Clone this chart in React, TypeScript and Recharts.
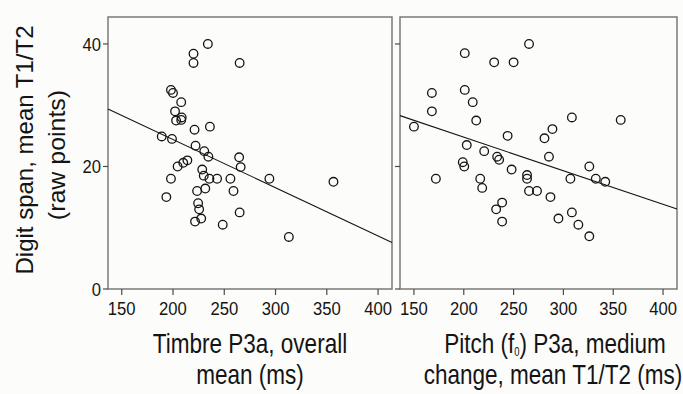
import React from 'react';
import { ScatterChart, Scatter, XAxis, YAxis, ReferenceLine, ReferenceArea, Label } from 'recharts';

// Left panel: Timbre P3a, overall mean (ms) vs digit span
const timbreP3a = [234, 220, 220, 265, 198, 200, 208, 202, 208.5, 203, 208, 221, 236, 189, 199, 222, 230.5, 214, 234.5, 264.5, 210, 204.5, 266, 228.5, 198, 230, 235.5, 243, 256, 294, 356.5, 193.5, 223.5, 231.5, 259, 224.5, 225.5, 221.5, 227.5, 248.5, 265, 313];
const digitSpanTimbre = [40, 38.4, 36.9, 36.9, 32.5, 32, 30.5, 29, 28, 27.5, 27.6, 26, 26.5, 24.9, 24.5, 23.4, 22.5, 21, 21.6, 21.5, 20.6, 20, 19.9, 19.5, 18, 18.5, 18, 18, 18, 18, 17.5, 15, 16, 16.4, 16, 14, 13, 11, 11.5, 10.5, 12.5, 8.5];

// Right panel: Pitch (f0) P3a, medium change, mean T1/T2 (ms) vs digit span
const pitchP3a = [265.5, 201, 230.5, 250, 168, 201, 209, 168, 212.5, 308.5, 357.5, 150, 289, 281, 244, 203, 220.5, 233.5, 235.5, 285.5, 199, 200.5, 326, 172, 216.5, 218.5, 248, 263.5, 263.5, 265.5, 273.5, 287, 307, 332.5, 342, 238.5, 232.5, 238.5, 295, 308.5, 315, 326];
const digitSpanPitch = [40, 38.5, 37, 37, 32, 32.5, 30.5, 29, 27.5, 28, 27.6, 26.5, 26.1, 24.6, 25, 23.5, 22.5, 21.6, 21.1, 21.6, 20.7, 20, 20, 18, 18, 16.5, 19.5, 18.6, 18, 16, 16, 15, 18, 18, 17.5, 14.1, 13, 11, 11.5, 12.5, 10.5, 8.6];

// Fit lines (endpoints read at the frame edges)
const timbreFitX = [136.6, 413.6];
const timbreFitY = [29.4, 7.6];
const pitchFitX = [136, 414];
const pitchFitY = [28.3, 13.05];

const xTicks = [150, 200, 250, 300, 350, 400];
const yTicks = [0, 20, 40];
const leftXDomain: [number, number] = [136.6, 413.6];
const rightXDomain: [number, number] = [136, 414];
const yDomain: [number, number] = [0, 44.4];

const leftData = timbreP3a.map((x, i) => ({ x, y: digitSpanTimbre[i] }));
const rightData = pitchP3a.map((x, i) => ({ x, y: digitSpanPitch[i] }));

const FONT = '"Liberation Sans", Arial, sans-serif';
const INK = '#141414';
const FRAME = '#7a7a7a';
const TICKC = '#4a4a4a';

const Ring = (p: any) => (
  <circle cx={p.cx} cy={p.cy} r={4.3} fill="none" stroke={INK} strokeWidth={1.3} />
);

const XTick = (p: any) => (
  <text transform={`translate(${p.x},${p.y + 20}) scale(0.9,1)`} textAnchor="middle" fontSize={18.5} fontFamily={FONT} fill={INK}>
    {p.payload.value}
  </text>
);

const YTick = (p: any) => (
  <text transform={`translate(${p.x},${p.y + 6.6}) scale(0.9,1)`} textAnchor="end" fontSize={18.5} fontFamily={FONT} fill={INK}>
    {p.payload.value}
  </text>
);

const NoTick = () => <g />;

const titleStyle = { fontSize: 28.5, fontFamily: FONT, fill: INK } as const;

const LeftXTitle = () => (
  <g>
    <text transform="translate(250,353) scale(0.79,1)" textAnchor="middle" {...titleStyle}>Timbre P3a, overall</text>
    <text transform="translate(250,384) scale(0.79,1)" textAnchor="middle" {...titleStyle}>mean (ms)</text>
  </g>
);

const RightXTitle = () => (
  <g>
    <text transform="translate(163,353) scale(0.79,1)" textAnchor="middle" {...titleStyle}>
      Pitch (f<tspan fontSize={12} dy={3}>0</tspan><tspan dy={-3}>) P3a, medium</tspan>
    </text>
    <text transform="translate(161,384) scale(0.79,1)" textAnchor="middle" {...titleStyle}>change, mean T1/T2 (ms)</text>
  </g>
);

const YTitle = () => (
  <g>
    <text transform="translate(32.5,150) rotate(-90) scale(1.0,1)" textAnchor="middle" fontSize={24} fontFamily={FONT} fill={INK}>Digit span, mean T1/T2</text>
    <text transform="translate(64.5,155) rotate(-90) scale(1.04,1)" textAnchor="middle" fontSize={24} fontFamily={FONT} fill={INK}>(raw points)</text>
  </g>
);

export default function App() {
  return (
    <div style={{ position: 'absolute', left: 0, top: 0, width: 683, height: 394, background: '#fcfcfa', overflow: 'hidden' }}>
      <div style={{ position: 'absolute', left: 0, top: 0 }}>
        <ScatterChart width={400} height={394} margin={{ top: 17, right: 8, bottom: 75, left: 48 }}>
          <XAxis type="number" dataKey="x" domain={leftXDomain} ticks={xTicks} allowDataOverflow height={30}
            tickSize={6} tickMargin={0} tick={XTick} axisLine={false} tickLine={{ stroke: TICKC, strokeWidth: 1.2 }}>
            <Label content={LeftXTitle} />
          </XAxis>
          <YAxis type="number" dataKey="y" domain={yDomain} ticks={yTicks} allowDataOverflow width={60}
            tickSize={5} tickMargin={2} tick={YTick} axisLine={false} tickLine={{ stroke: TICKC, strokeWidth: 1.2 }}>
            <Label content={YTitle} />
          </YAxis>
          <ReferenceArea x1={leftXDomain[0]} x2={leftXDomain[1]} y1={yDomain[0]} y2={yDomain[1]} fill="none" fillOpacity={0} stroke={FRAME} strokeWidth={1.5} ifOverflow="visible" />
          <ReferenceLine segment={[{ x: timbreFitX[0], y: timbreFitY[0] }, { x: timbreFitX[1], y: timbreFitY[1] }]} stroke={INK} strokeWidth={1.1} ifOverflow="visible" />
          <Scatter data={leftData} shape={Ring} isAnimationActive={false} />
        </ScatterChart>
      </div>
      <div style={{ position: 'absolute', left: 392, top: 0 }}>
        <ScatterChart width={291} height={394} margin={{ top: 17, right: 6, bottom: 75, left: 0 }}>
          <XAxis type="number" dataKey="x" domain={rightXDomain} ticks={xTicks} allowDataOverflow height={30}
            tickSize={6} tickMargin={0} tick={XTick} axisLine={false} tickLine={{ stroke: TICKC, strokeWidth: 1.2 }}>
            <Label content={RightXTitle} />
          </XAxis>
          <YAxis type="number" dataKey="y" domain={yDomain} ticks={yTicks} allowDataOverflow width={8}
            tickSize={5} tickMargin={0} tick={NoTick} axisLine={false} tickLine={{ stroke: TICKC, strokeWidth: 1.2 }} />
          <ReferenceArea x1={rightXDomain[0]} x2={rightXDomain[1]} y1={yDomain[0]} y2={yDomain[1]} fill="none" fillOpacity={0} stroke={FRAME} strokeWidth={1.5} ifOverflow="visible" />
          <ReferenceLine segment={[{ x: pitchFitX[0], y: pitchFitY[0] }, { x: pitchFitX[1], y: pitchFitY[1] }]} stroke={INK} strokeWidth={1.1} ifOverflow="visible" />
          <Scatter data={rightData} shape={Ring} isAnimationActive={false} />
        </ScatterChart>
      </div>
    </div>
  );
}
